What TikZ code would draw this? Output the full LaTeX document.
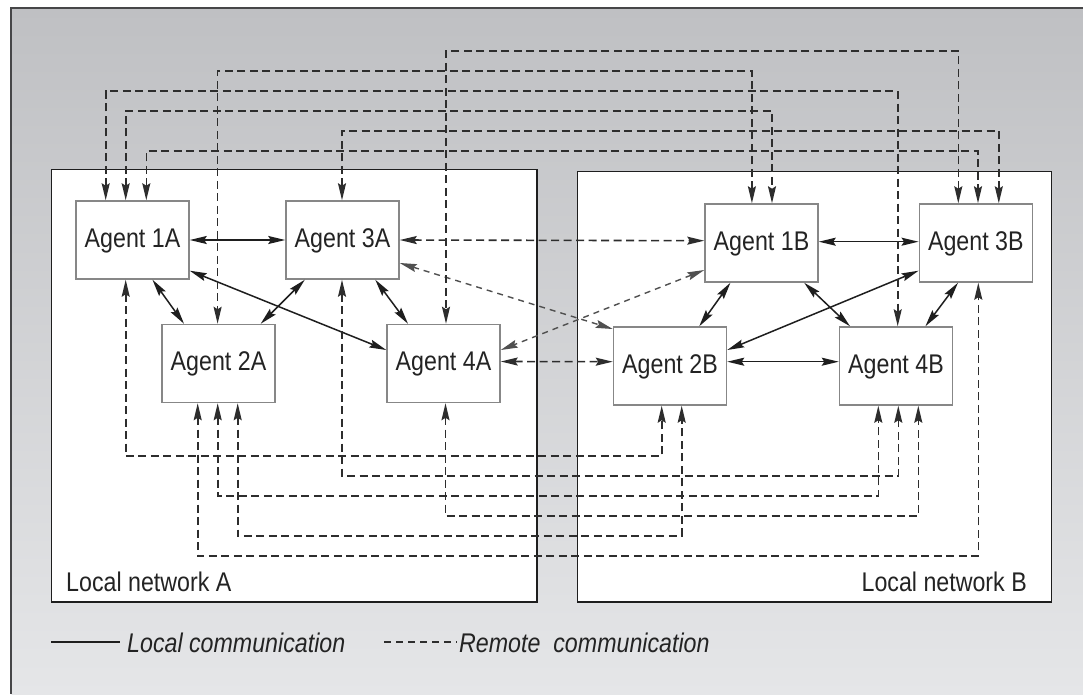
\documentclass[tikz,border=0pt]{standalone}
\usepackage{fontspec}
\setmainfont{Liberation Sans}[FakeStretch=0.86]
\usetikzlibrary{arrows.meta,calc}
\definecolor{bgtop}{RGB}{191,192,195}
\definecolor{bgbot}{RGB}{229,230,232}
\definecolor{framec}{RGB}{70,70,72}
\definecolor{agentgray}{RGB}{135,135,135}
\definecolor{txt}{RGB}{35,35,35}
\definecolor{lc}{RGB}{30,30,30}
\definecolor{rc}{RGB}{45,45,45}
\definecolor{rcl}{RGB}{80,80,80}
\begin{document}
\begin{tikzpicture}[x=1pt,y=-1pt,
  >={Stealth[length=17pt,width=8pt,inset=2.5pt]},
  agent/.style={draw=agentgray, fill=white, line width=1.5pt, inner sep=0pt,
    minimum width=113pt, text height=46pt, text depth=32pt,
    font=\fontsize{27}{30}\selectfont, text=txt},
  netbox/.style={draw=lc, fill=white, line width=1.6pt},
  netlabel/.style={font=\fontsize{27}{30}\selectfont, text=txt, inner sep=0pt},
  legendtext/.style={font=\fontsize{27}{30}\selectfont\itshape, text=txt, inner sep=0pt},
  localc/.style={draw=lc, line width=1.5pt, <->},
  remote/.style={draw=rc, line width=1.6pt, dash pattern=on 8pt off 4.5pt, <->},
  remotediag/.style={draw=rcl, line width=1.4pt, dash pattern=on 6pt off 5pt, <->},
]
\useasboundingbox (0,0) rectangle (1083,694);
% background and outer frame
\shade[top color=bgtop, bottom color=bgbot] (11.4,8.4) rectangle (1083,694);
\draw[framec, line width=2pt] (11.4,694) -- (11.4,8.4) -- (1083,8.4);

% local networks
\draw[netbox] (51.6,169.5) rectangle (537,602);
\draw[netbox] (577.4,171.5) rectangle (1051.5,602);
\node[netlabel, anchor=base west] (labA) at (66,591) {Local network A};
\node[netlabel, anchor=base east] (labB) at (1027,591) {Local network B};

% agents
\node[agent] (A1) at (132.5,240) {Agent 1A};
\node[agent] (A3) at (342.5,240) {Agent 3A};
\node[agent] (A2) at (218.5,363.5) {Agent 2A};
\node[agent] (A4) at (443.5,363.5) {Agent 4A};
\node[agent] (B1) at (761.5,243) {Agent 1B};
\node[agent] (B3) at (975.8,243) {Agent 3B};
\node[agent] (B2) at (670,366) {Agent 2B};
\node[agent] (B4) at (896,366) {Agent 4B};

% routing levels
\foreach \lv in {51,71,91,111,131,151,456,476,496,516,536,556}
  \coordinate (m\lv) at (500,\lv);

% local communication
\draw[localc] (A1.east) -- (A3.west);
\draw[localc] ([xshift=20pt]A1.south) -- ([xshift=-34.5pt]A2.north);
\draw[localc] ([xshift=-37.7pt]A3.south) -- ([xshift=42.2pt]A2.north);
\draw[localc] ([yshift=-30.7pt]A1.east) -- ([yshift=13.5pt]A4.west);
\draw[localc] ([xshift=32.8pt]A3.south) -- ([xshift=-35.5pt]A4.north);
\draw[localc] ([yshift=1.3pt]B1.east) -- ([yshift=1.3pt]B3.west);
\draw[localc] ([xshift=-31.1pt]B1.south) -- ([xshift=29.3pt]B2.north);
\draw[localc] ([xshift=42.7pt]B1.south) -- ([xshift=-46pt]B4.north);
\draw[localc] ([yshift=-27.7pt]B3.west) -- ([yshift=16pt]B2.east);
\draw[localc] ([xshift=-17.8pt]B3.south) -- ([xshift=29.4pt]B4.north);
\draw[localc] ([yshift=4.3pt]B2.east) -- ([yshift=4.3pt]B4.west);

% remote communication, direct
\draw[remote] (A3.east) -- ([yshift=2.3pt]B1.west);
\draw[remote] ([yshift=2pt]A4.east) -- ([yshift=4.3pt]B2.west);
\draw[remotediag] ([yshift=-23pt]A3.east) -- ([yshift=37pt]B2.west);
\draw[remotediag] ([yshift=-27pt]B1.west) -- ([yshift=13.5pt]A4.east);

% remote communication, routed above
\draw[remote] ([xshift=-17.5pt]B3.north) |- (m51) -| ([xshift=2.5pt]A4.north);
\draw[remote] ([xshift=-9.6pt]B1.north) |- (m71) -| ([xshift=-0.9pt]A2.north);
\draw[remote] ([xshift=-26.8pt]A1.north) |- (m91) -| ([xshift=1.7pt]B4.north);
\draw[remote] ([xshift=-6.8pt]A1.north) |- (m111) -| ([xshift=10.5pt]B1.north);
\draw[remote] ([xshift=-0.5pt]A3.north) |- (m131) -| ([xshift=23pt]B3.north);
\draw[remote] ([xshift=13.8pt]A1.north) |- (m151) -| ([xshift=2.2pt]B3.north);

% remote communication, routed below
\draw[remote] ([xshift=-6.8pt]A1.south) |- (m456) -| ([xshift=-8.3pt]B2.south);
\draw[remote] ([xshift=-0.5pt]A3.south) |- (m476) -| ([xshift=2.3pt]B4.south);
\draw[remote] ([xshift=-0.8pt]A2.south) |- (m496) -| ([xshift=-17.7pt]B4.south);
\draw[remote] ([xshift=2pt]A4.south) |- (m516) -| ([xshift=22.3pt]B4.south);
\draw[remote] ([xshift=19.2pt]A2.south) |- (m536) -| ([xshift=11.7pt]B2.south);
\draw[remote] ([xshift=-20.8pt]A2.south) |- (m556) -| ([xshift=2.5pt]B3.south);

% legend
\coordinate (lg1a) at (51,642);
\coordinate (lg1b) at (120,642);
\coordinate (lg2a) at (384,642);
\coordinate (lg2b) at (457,642);
\draw[draw=lc, line width=1.4pt] (lg1a) -- (lg1b);
\draw[draw=rc, line width=1.3pt, dash pattern=on 7pt off 5pt] (lg2a) -- (lg2b);
\node[legendtext, anchor=base west] (lgt1) at (127,652) {Local communication};
\node[legendtext, anchor=base west] (lgt2) at (459,652) {Remote\ \ communication};
\end{tikzpicture}
\end{document}
